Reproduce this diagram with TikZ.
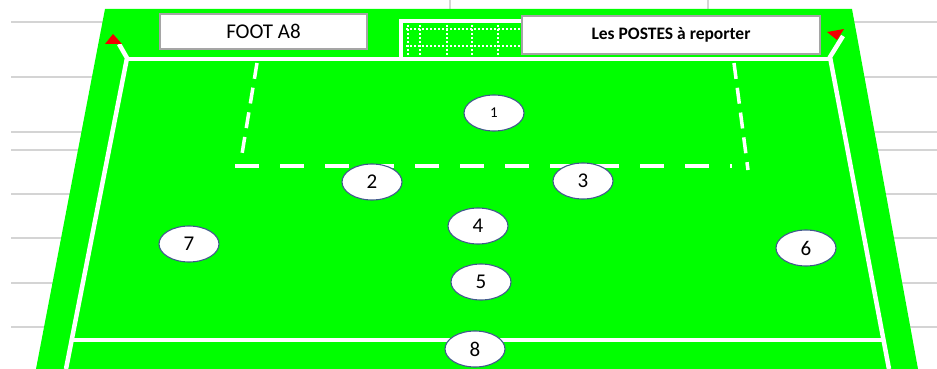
\documentclass[tikz,border=0pt]{standalone}
\usepackage{fontspec}
\setmainfont{Carlito}
\usetikzlibrary{shapes.geometric}
\definecolor{fieldgreen}{RGB}{0,255,0}
\definecolor{gridgray}{RGB}{212,212,212}
\definecolor{boxgray}{RGB}{165,165,165}
\definecolor{posborder}{RGB}{65,90,140}
\definecolor{flagred}{RGB}{240,0,0}
\tikzset{
  gridline/.style={draw=gridgray, line width=1.5pt},
  fieldline/.style={draw=white, line width=4.5pt},
  areadash/.style={draw=white, line width=3.5pt},
  netline/.style={draw=white, line width=1.6pt, dash pattern=on 1.6pt off 2.4pt},
  txtbox/.style={draw=boxgray, line width=1.5pt, fill=white, inner sep=0pt, text=black},
  posnode/.style={ellipse, draw=posborder, line width=1.1pt, fill=white, inner sep=0pt,
    minimum width=60pt, minimum height=36pt, font=\fontsize{21}{21}\selectfont},
}
\begin{document}
\begin{tikzpicture}[x=1pt, y=-1pt]
\useasboundingbox (0,0) rectangle (937,369);
\fill[white] (0,0) rectangle (937,369);
% background grid
\foreach \yy in {22,77,132,150,194,238,283,327}
  \draw[gridline] (11,\yy) -- (937,\yy);
\draw[gridline] (450,0) -- (450,10);
\draw[gridline] (708,0) -- (708,10);
% pitch
\fill[fieldgreen] (105,9) -- (852,9) -- (918,369) -- (36,369) -- cycle;
% goal
\draw[draw=white, line width=4.5pt] (401,59) -- (401,21) -- (530,21);
\foreach \xx in {408,420,447,472,498}
  \draw[netline] (\xx,25) -- (\xx,57);
\foreach \yy in {29,46}
  \draw[netline] (406,\yy) -- (525,\yy);
% field lines
\draw[fieldline] (119,44) -- (127,58) -- (66,369);
\draw[fieldline] (125,59) -- (832,59);
\draw[fieldline] (843,36) -- (830,57) -- (889,369);
\draw[fieldline, line width=4pt] (71,340) -- (884,340);
% penalty area
\draw[areadash, dash pattern=on 24pt off 21pt] (235,166) -- (732,166);
\draw[areadash, dash pattern=on 16pt off 9pt] (257,63) -- (241,160);
\draw[areadash, dash pattern=on 16pt off 9pt] (734,63) -- (748,170);
% flags
\fill[flagred] (105,44) -- (113,34) -- (122,44) -- cycle;
\fill[flagred] (827,32) -- (844,29) -- (837,40) -- cycle;
% title boxes
\node[txtbox, minimum width=207pt, minimum height=35pt, font=\fontsize{21}{21}\selectfont]
  (title) at (263.5,31.5) {FOOT A8};
\node[txtbox, minimum width=298pt, minimum height=38pt, font=\fontsize{17.5}{17.5}\selectfont\bfseries]
  (posts) at (671,35) {Les POSTES à reporter};
% positions
\node[posnode, font=\fontsize{15}{15}\selectfont] (p1) at (494,113) {1};
\node[posnode] (p2) at (372,182) {2};
\node[posnode] (p3) at (583,181) {3};
\node[posnode] (p4) at (478,226) {4};
\node[posnode] (p5) at (481,282) {5};
\node[posnode] (p6) at (806,248) {6};
\node[posnode] (p7) at (189,244) {7};
\node[posnode] (p8) at (475,349) {8};
\end{tikzpicture}
\end{document}
